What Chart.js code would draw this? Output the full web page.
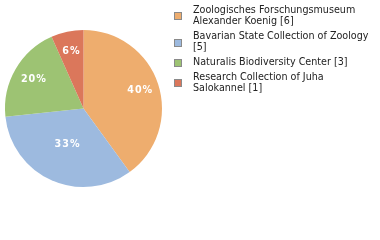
<!DOCTYPE html>
<html><head><meta charset="utf-8">
<script src="https://cdn.jsdelivr.net/npm/chart.js@4/dist/chart.umd.min.js"></script>
<style>html,body{margin:0;padding:0;background:#fff;}#wrap{width:380px;height:240px;position:relative;}</style>
</head><body><div id="wrap"><canvas id="c" width="380" height="240"></canvas></div>
<script>
const categories = [
  ["Zoologisches Forschungsmuseum", "Alexander Koenig [6]"],
  ["Bavarian State Collection of Zoology", "[5]"],
  ["Naturalis Biodiversity Center [3]"],
  ["Research Collection of Juha", "Salokannel [1]"]
];
const counts = [6, 5, 3, 1];
const colors = ["#EEAD6E", "#9DBADF", "#9DC373", "#DB775B"];

const total = counts.reduce((a, b) => a + b, 0);
const pctLabels = counts.map(v => Math.floor(v / total * 100) + "%");

const labelPlugin = {
  id: 'pctLabels',
  afterDatasetsDraw(chart, args, opts) {
    const ctx = chart.ctx;
    const meta = chart.getDatasetMeta(0);
    ctx.save();
    ctx.font = "600 9.6px 'DejaVu Sans'";
    ctx.fillStyle = "#fff";
    ctx.textAlign = "center";
    ctx.textBaseline = "middle";
    if (ctx.letterSpacing !== undefined) ctx.letterSpacing = "1px";
    meta.data.forEach((arc, i) => {
      const mid = (arc.startAngle + arc.endAngle) / 2;
      const r = arc.outerRadius * opts.radial[i];
      const x = arc.x + Math.cos(mid) * r;
      const y = arc.y + Math.sin(mid) * r;
      ctx.fillText(pctLabels[i], x, y);
    });
    ctx.restore();
  }
};

const legendPlugin = {
  id: 'sideLegend',
  afterDraw(chart, args, opts) {
    const ctx = chart.ctx;
    ctx.save();
    ctx.font = "9.6px 'DejaVu Sans'";
    ctx.textBaseline = "middle";
    ctx.textAlign = "left";
    let y = opts.top;
    categories.forEach((lines, i) => {
      const h = (lines.length - 1) * opts.lineH;
      const by = Math.round(y + h / 2 - 3.5);
      ctx.fillStyle = colors[i];
      ctx.fillRect(opts.boxX, by, 8, 8);
      ctx.strokeStyle = "#8a8a8a";
      ctx.lineWidth = 1;
      ctx.strokeRect(opts.boxX + 0.5, by + 0.5, 7, 7);
      ctx.fillStyle = "#222";
      lines.forEach((t, j) => {
        ctx.fillText(t, opts.textX, y + j * opts.lineH);
      });
      y += lines.length * opts.lineH + opts.gap;
    });
    ctx.restore();
  }
};

new Chart(document.getElementById('c'), {
  type: 'pie',
  data: {
    labels: categories.map(l => l.join(' ')),
    datasets: [{ data: counts, backgroundColor: colors, borderWidth: 0 }]
  },
  options: {
    responsive: false,
    animation: false,
    devicePixelRatio: 1,
    layout: { padding: { left: 5, top: 30, right: 218, bottom: 53 } },
    plugins: {
      legend: { display: false },
      tooltip: { enabled: false },
      pctLabels: { radial: [0.76, 0.5, 0.73, 0.74] },
      sideLegend: { boxX: 174, textX: 193, top: 10, lineH: 11.6, gap: 3 }
    }
  },
  plugins: [labelPlugin, legendPlugin]
});
</script>
</body></html>
